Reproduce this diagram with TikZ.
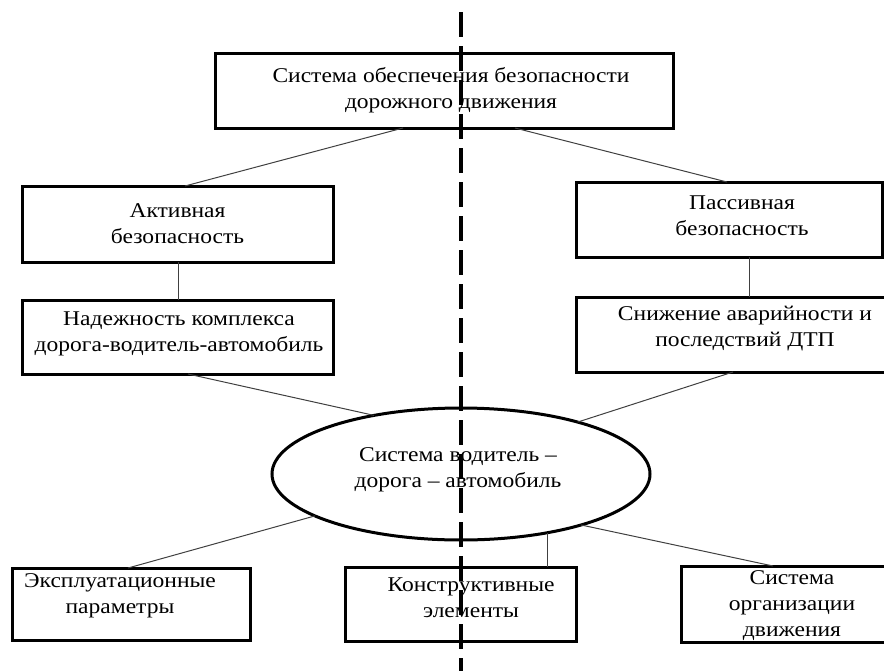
\documentclass[tikz,border=0pt]{standalone}
\usepackage{fontspec}
\setmainfont{Liberation Serif}[FakeStretch=1.12]
\usetikzlibrary{shapes.geometric}
\begin{document}
\begin{tikzpicture}[x=1pt,y=-1pt,
  box/.style={draw, line width=3pt, inner sep=0pt, outer sep=0pt},
  lbl/.style={align=center, inner sep=0pt, font=\fontsize{21}{26}\selectfont},
  conn/.style={line width=1pt, draw=black!75},
  axisline/.style={line width=3.5pt, dash pattern=on 25pt off 9pt}]
\useasboundingbox (0,0) rectangle (884,670);
% boxes
\node[box, minimum width=458pt, minimum height=75pt] (top) at (444,90.5) {};
\node[box, minimum width=311pt, minimum height=76pt] (act) at (177.5,224) {};
\node[box, minimum width=311pt, minimum height=74pt] (nad) at (177.5,337) {};
\node[box, minimum width=306pt, minimum height=75pt] (pas) at (729,219.5) {};
\node[box, minimum width=310pt, minimum height=75pt] (sni) at (731,334.5) {};
\node[box, minimum width=238pt, minimum height=72pt] (eks) at (131,604) {};
\node[box, minimum width=231pt, minimum height=74pt] (kon) at (460.5,604) {};
\node[box, minimum width=222pt, minimum height=76pt] (sys) at (792,604) {};
\node[box, ellipse, minimum width=378pt, minimum height=132pt] (ell) at (461,474) {};
% texts
\node[lbl] (topt) at (451,90.5) {Система обеспечения безопасности\\дорожного движения};
\node[lbl] (actt) at (177.5,223.5) {Активная\\безопасность};
\node[lbl] (nadt) at (179,334) {Надежность комплекса\\дорога-водитель-автомобиль};
\node[lbl] (past) at (742,216) {Пассивная\\безопасность};
\node[lbl] (snit) at (745,328.5) {Снижение аварийности и\\последствий ДТП};
\node[lbl] (ellt) at (458,470) {Система водитель –\\дорога – автомобиль};
\node[lbl] (ekst) at (120,596) {Эксплуатационные\\параметры};
\node[lbl] (kont) at (471,598) {Конструктивные\\элементы};
\node[lbl] (syst) at (792,606) {Система\\организации\\движения};
% connectors
\draw[conn] (top.south -| 403,0) -- (act.north -| 185,0);
\draw[conn] (top.south -| 515,0) -- (pas.north -| 727,0);
\draw[conn] (act.south -| 178,0) -- (nad.north -| 178,0);
\draw[conn] (pas.south -| 749,0) -- (sni.north -| 749,0);
\draw[conn] (nad.south -| 188,0) -- (ell.146.6);
\draw[conn] (sni.south -| 733,0) -- (ell.24.1);
\draw[conn] (ell.196) -- (eks.north -| 128,0);
\draw[conn] (ell.326.6) -- (ell.326.6 |- kon.north);
\draw[conn] (ell.337.1) -- (sys.north -| 773,0);
% dashed axis
\coordinate (dtop) at (461,12);
\coordinate (dbot) at (461,672);
\draw[axisline] (dtop) -- (dbot);
\end{tikzpicture}
\end{document}
